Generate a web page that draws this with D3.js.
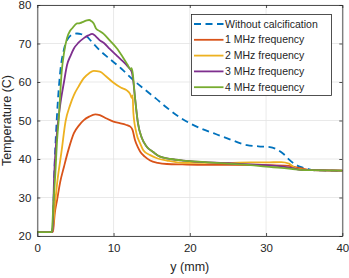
<!DOCTYPE html>
<html>
<head>
<meta charset="utf-8">
<script src="https://cdn.jsdelivr.net/npm/d3@7"></script>
<style>
  body { margin: 0; background: #fff; }
  text { font-family: "Liberation Sans", Arial, Helvetica, sans-serif; fill: #262626; }
</style>
</head>
<body>
<div id="chart"></div>
<script>
// series names (legend order = draw order)
var seriesNames = ["Without calcification", "1 MHz frequency", "2 MHz frequency", "3 MHz frequency", "4 MHz frequency"];

// y (mm) / temperature (C)
var xNoCalc = [0, 1.9, 2.0, 2.3, 2.6, 3.0, 3.5, 4.1, 4.6, 5.2, 5.8, 6.5, 7.2, 8.2, 9.5, 11, 12.6, 14, 15.5, 17, 18.7, 20, 21.5, 23.1, 25, 27.5, 29, 30.5, 31.5, 32.3, 33.1, 34.4, 35.3, 36.2, 38, 40];
var tNoCalc = [21, 21, 22, 40, 52, 62.5, 68.5, 71.5, 72.3, 72.6, 72.4, 71.8, 70.3, 68.2, 66, 63.5, 60.5, 58.2, 55.8, 53.3, 50.8, 49.3, 47.9, 46.7, 45.3, 43.6, 43.3, 43.1, 42.4, 41.3, 39.7, 38, 37.5, 37.1, 37, 36.9];

var x1MHz = [0, 1.95, 2.05, 2.3, 2.6, 3.0, 3.5, 4.1, 4.8, 5.5, 6.1, 6.8, 7.6, 8.2, 9, 10, 10.8, 11.6, 12.2, 12.5, 12.8, 13.2, 13.5, 14.1, 14.8, 15.8, 17, 19, 22, 25, 30, 33, 34.5, 36, 40];
var t1MHz = [21, 21, 21.2, 26, 29.4, 34, 38, 42.5, 46.7, 48.8, 50.1, 51, 51.6, 51.4, 50.6, 49.7, 49.3, 48.9, 48.4, 47.5, 45, 43, 41.9, 40.6, 39.6, 39, 38.7, 38.6, 38.5, 38.5, 38.4, 38.2, 37.6, 37.1, 37];

var x2MHz = [0, 1.9, 2.0, 2.3, 2.6, 3.2, 3.7, 4.3, 4.8, 5.4, 6.1, 6.8, 7.4, 8.2, 9, 10, 11, 11.7, 12.2, 12.4, 12.5, 12.6, 13, 13.5, 13.9, 14.8, 15.7, 17, 19.1, 22, 25, 28, 30, 32, 33, 33.7, 34.5, 36, 40];
var t2MHz = [21, 21, 21.3, 28, 33.7, 42.3, 49.7, 54, 56.6, 58.8, 61, 62.3, 62.9, 62.7, 61.5, 59.8, 58.5, 57.9, 56.8, 55.8, 56.5, 52, 46.7, 44, 42.3, 41, 40.2, 39.6, 39, 39, 39, 39.1, 39.1, 39.2, 38.8, 37.8, 37.3, 37.1, 37];

var x3MHz = [0, 1.9, 2.0, 2.2, 2.5, 3.0, 3.5, 3.9, 4.4, 4.8, 5.4, 6.1, 6.7, 7.2, 7.7, 8.2, 8.7, 9.5, 10.45, 11.2, 11.8, 12.2, 12.4, 12.6, 12.8, 13.2, 13.7, 14.35, 15.2, 16.1, 17.5, 19.1, 22, 25, 28, 30, 32, 33.5, 34.5, 36, 40];
var t3MHz = [21, 21, 21.5, 35, 45, 54, 60, 64.4, 67, 68.7, 70.2, 71.4, 72.1, 72.5, 71.8, 70.8, 70.2, 68.6, 66.8, 65.4, 64.2, 63.3, 62.5, 60, 56.2, 49.3, 45.5, 43.2, 41.8, 40.6, 40, 39.6, 39.2, 38.9, 38.6, 38.4, 38.1, 37.6, 37.2, 37.1, 37];

var x4MHz = [0, 1.9, 1.95, 2.1, 2.36, 2.6, 2.8, 3.2, 3.5, 3.9, 4.3, 4.55, 5.2, 5.6, 6.1, 6.5, 6.8, 7.1, 7.4, 7.7, 8.2, 8.7, 9.5, 10.45, 11.2, 11.8, 12.2, 12.35, 12.5, 12.8, 13.2, 13.7, 14.35, 15.2, 16.1, 17.5, 19.1, 22, 25, 28, 30, 32, 33.5, 34.5, 36, 40];
var t4MHz = [21, 21, 22, 28, 36, 45, 50, 62.7, 67.5, 71.4, 73.3, 73.9, 75.2, 75.3, 75.7, 76, 76.1, 75.8, 75.2, 73.9, 73.2, 72.5, 70.8, 68.7, 66.5, 64.6, 63.3, 63.6, 62.5, 56.2, 49.3, 45.5, 43.2, 41.8, 40.6, 40, 39.6, 39.2, 38.8, 38.4, 38, 37.7, 37.4, 37.2, 37.1, 37];

var xTicks = [0, 10, 20, 30, 40];
var yTicks = [20, 30, 40, 50, 60, 70, 80];

var colorList = ["#0072BD", "#D95319", "#EDB120", "#7E2F8E", "#77AC30"];

var width = 349, height = 278;
var margin = { left: 37.3, right: 6.7, top: 5, bottom: 42 };

var svg = d3.select("#chart").append("svg")
    .attr("width", width)
    .attr("height", height);

var x = d3.scaleLinear().domain([0, 40]).range([margin.left, width - margin.right]);
var y = d3.scaleLinear().domain([20, 80]).range([height - margin.bottom, margin.top]);

// grid
var grid = svg.append("g").attr("stroke", "#e3e3e3").attr("stroke-width", 0.8);
grid.selectAll(".gx").data(xTicks).enter().append("line")
    .attr("x1", function (d) { return x(d); }).attr("x2", function (d) { return x(d); })
    .attr("y1", y(20)).attr("y2", y(80));
grid.selectAll(".gy").data(yTicks).enter().append("line")
    .attr("y1", function (d) { return y(d); }).attr("y2", function (d) { return y(d); })
    .attr("x1", x(0)).attr("x2", x(40));

// lines
var series = [
    { xs: xNoCalc, ts: tNoCalc },
    { xs: x1MHz, ts: t1MHz },
    { xs: x2MHz, ts: t2MHz },
    { xs: x3MHz, ts: t3MHz },
    { xs: x4MHz, ts: t4MHz }
];

var line = d3.line()
    .x(function (d) { return x(d[0]); })
    .y(function (d) { return y(d[1]); })
    .curve(d3.curveMonotoneX);

series.forEach(function (s, i) {
    var pts = s.xs.map(function (v, j) { return [v, s.ts[j]]; });
    svg.append("path")
        .datum(pts)
        .attr("d", line)
        .attr("fill", "none")
        .attr("stroke", colorList[i])
        .attr("stroke-width", 1.8)
        .attr("stroke-dasharray", i == 0 ? "7,4.5" : null);
});

// axes (MATLAB style box with inward ticks)
var tickLen = 3;
var axisG = svg.append("g");
axisG.append("g")
    .attr("transform", "translate(0," + y(20) + ")")
    .call(d3.axisBottom(x).tickValues(xTicks).tickSizeInner(-tickLen).tickSizeOuter(0).tickPadding(8));
axisG.append("g")
    .attr("transform", "translate(0," + y(80) + ")")
    .call(d3.axisTop(x).tickValues(xTicks).tickSizeInner(-tickLen).tickSizeOuter(0).tickFormat(""));
axisG.append("g")
    .attr("transform", "translate(" + x(0) + ",0)")
    .call(d3.axisLeft(y).tickValues(yTicks).tickSizeInner(-tickLen).tickSizeOuter(0).tickPadding(6));
axisG.append("g")
    .attr("transform", "translate(" + x(40) + ",0)")
    .call(d3.axisRight(y).tickValues(yTicks).tickSizeInner(-tickLen).tickSizeOuter(0).tickFormat(""));
axisG.selectAll(".domain").attr("stroke", "#262626").attr("stroke-width", 0.8);
axisG.selectAll(".tick line").attr("stroke", "#262626").attr("stroke-width", 0.8);
axisG.selectAll(".tick text")
    .attr("fill", "#262626")
    .style("font-size", "11.5px")
    .style("font-family", "'Liberation Sans', Arial, sans-serif");

// axis labels
svg.append("text")
    .attr("x", (x(0) + x(40)) / 2)
    .attr("y", 271)
    .attr("text-anchor", "middle")
    .style("font-size", "12.5px")
    .text("y (mm)");
svg.append("text")
    .attr("transform", "translate(11," + (y(20) + y(80)) / 2 + ") rotate(-90)")
    .attr("text-anchor", "middle")
    .style("font-size", "12.5px")
    .text("Temperature (C)");

// legend
var lg = svg.append("g").attr("transform", "translate(191.5,14.5)");
lg.append("rect")
    .attr("width", 140).attr("height", 81)
    .attr("fill", "#fff")
    .attr("stroke", "#262626")
    .attr("stroke-width", 0.8);
seriesNames.forEach(function (name, i) {
    var cy = 9.5 + i * 15.8;
    lg.append("line")
        .attr("x1", 2.5).attr("x2", 32)
        .attr("y1", cy).attr("y2", cy)
        .attr("stroke", colorList[i])
        .attr("stroke-width", 1.8)
        .attr("stroke-dasharray", i == 0 ? "7,4.5" : null);
    lg.append("text")
        .attr("x", 33.5).attr("y", cy)
        .attr("dy", "0.35em")
        .style("font-size", "10.5px")
        .text(name);
});
</script>
</body>
</html>
